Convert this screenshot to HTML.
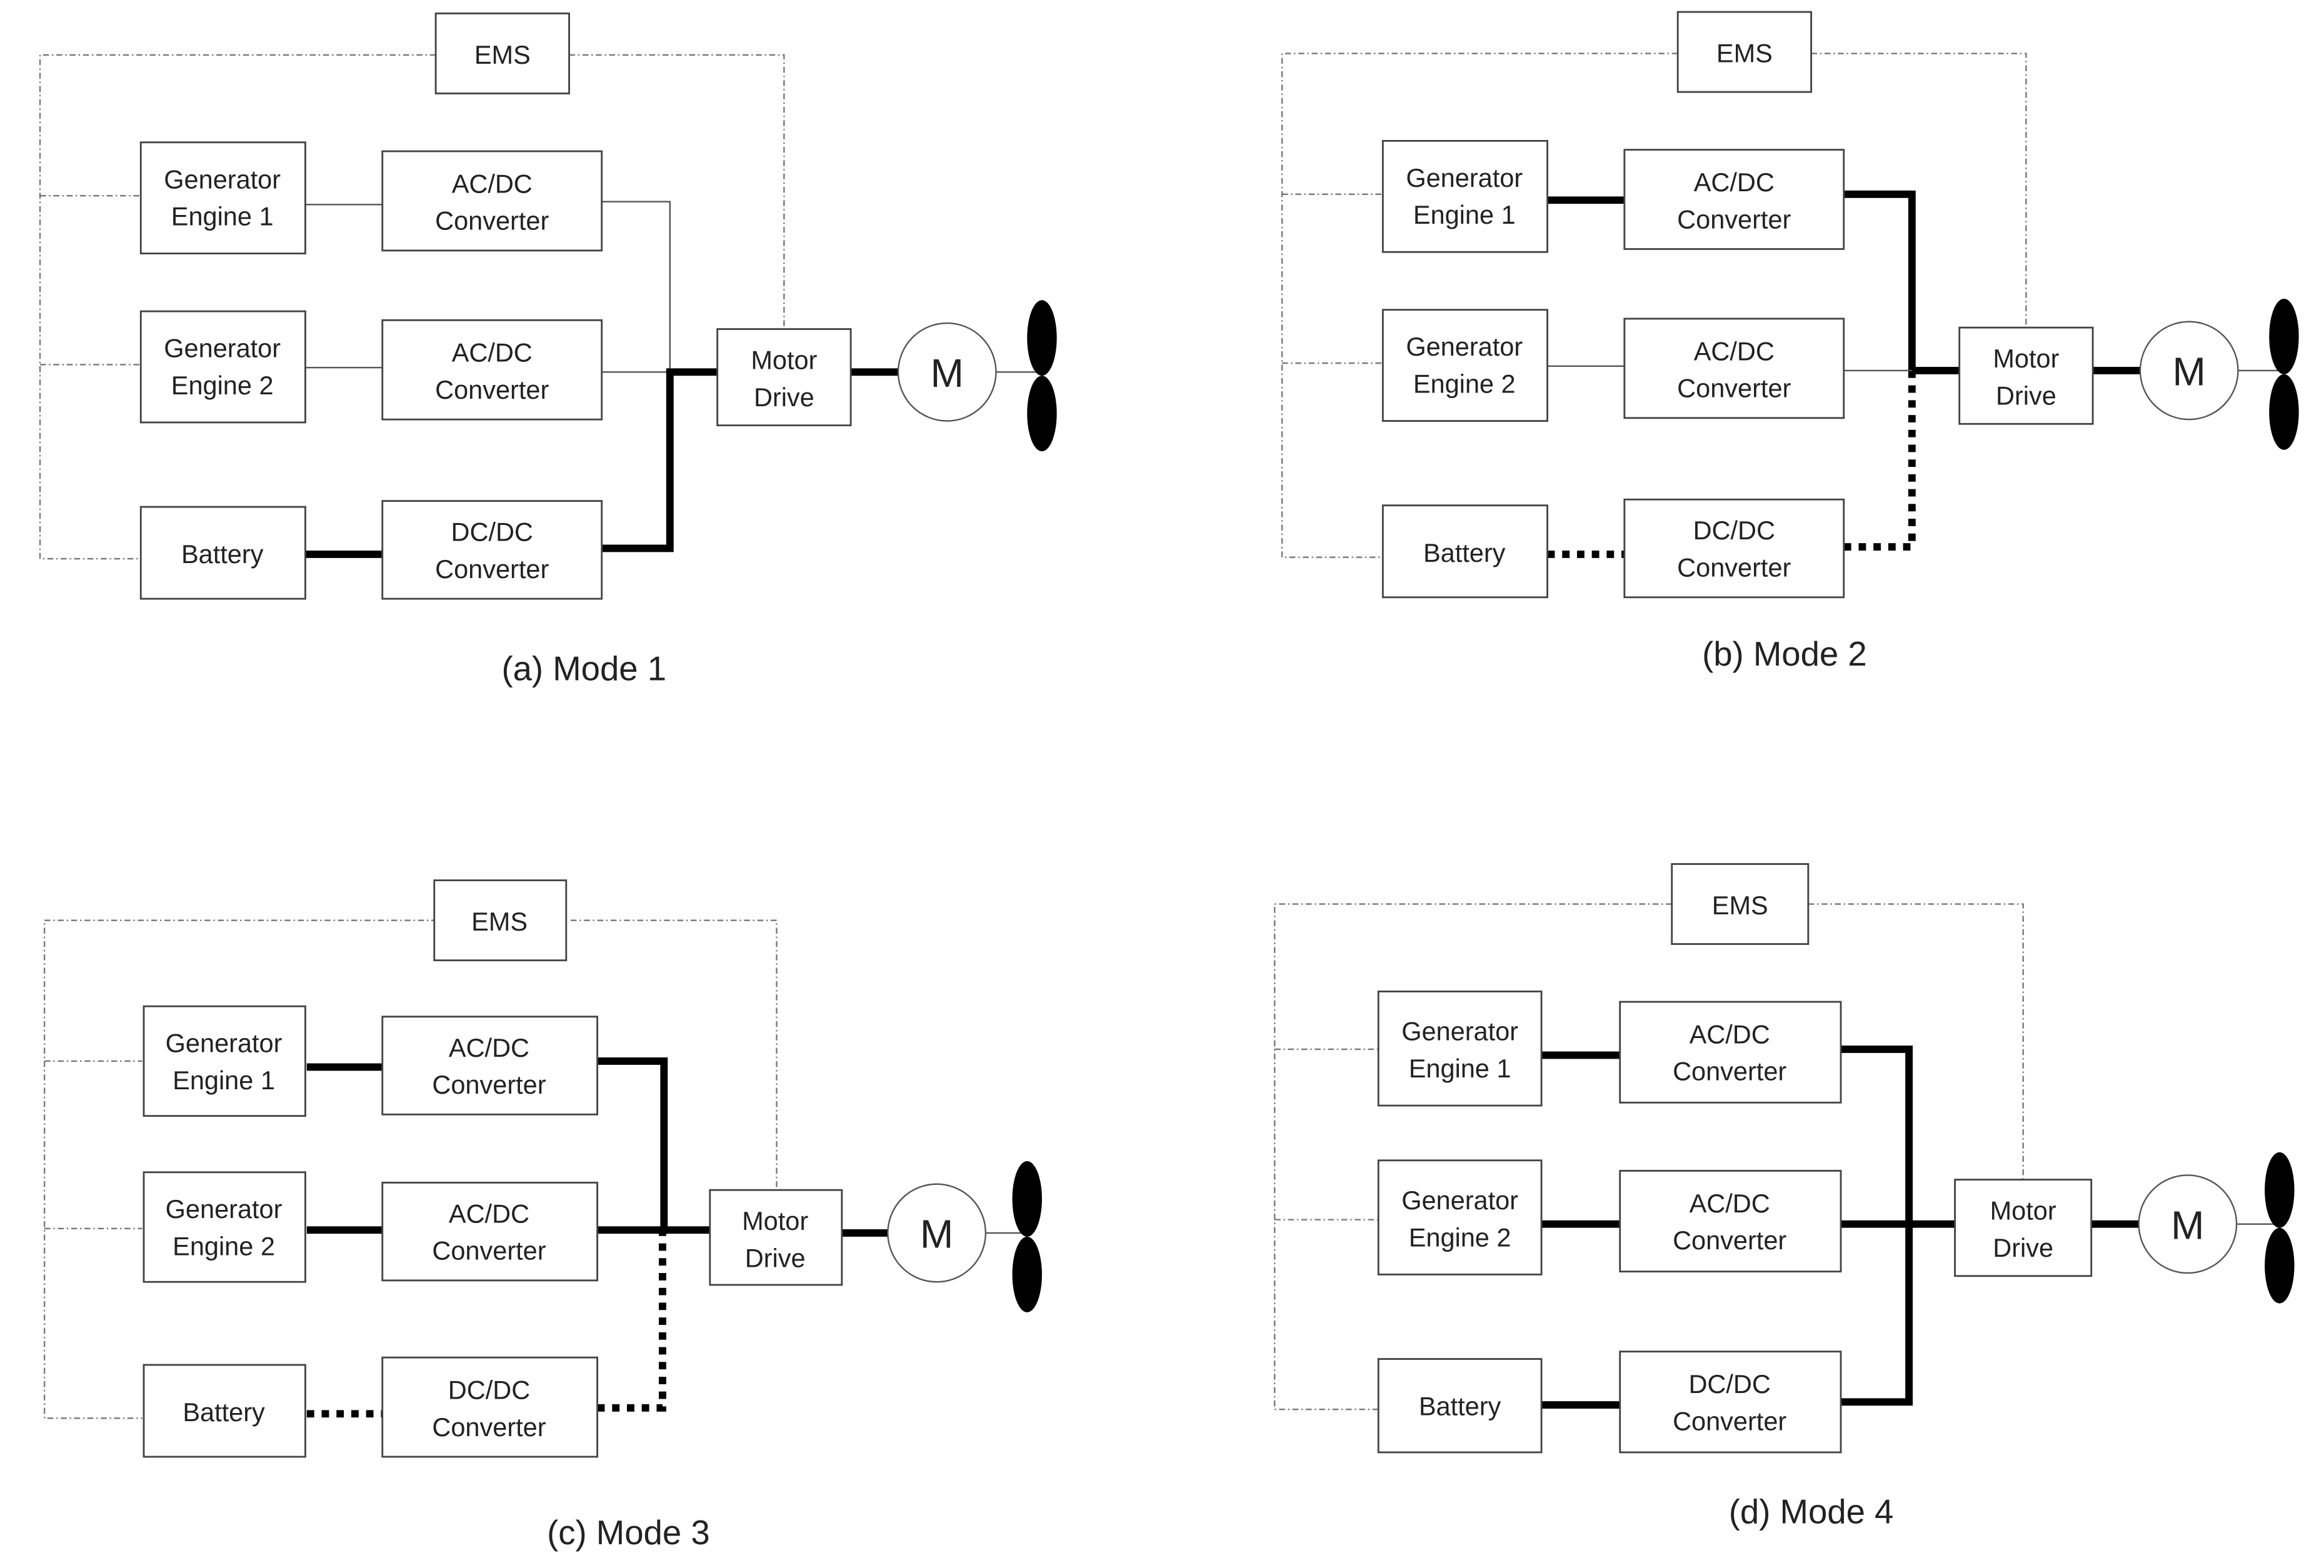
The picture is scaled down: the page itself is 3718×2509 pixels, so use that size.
<!DOCTYPE html>
<html><head><meta charset="utf-8"><style>
html,body{margin:0;padding:0;background:#fff;}
svg{display:block;}
text{font-family:"Liberation Sans","Noto Sans CJK KR",sans-serif;fill:#222;text-anchor:middle;}
.bx{fill:#fff;stroke:#444;stroke-width:1.2;}
.dd{fill:none;stroke:#777;stroke-width:1;stroke-dasharray:4,2,1,2;}
.tn{fill:none;stroke:#555;stroke-width:1;}
.tk{fill:none;stroke:#000;stroke-width:5;}
.dt{fill:none;stroke:#000;stroke-width:5;stroke-dasharray:5,5;}
.t{font-size:17.5px;}
.lb{font-size:23px;}
</style></head><body>
<svg width="3718" height="2509" viewBox="0 0 1568 1058" xmlns="http://www.w3.org/2000/svg">
<rect width="1568" height="1058" fill="#fff"/>

<!-- Panel A -->
<g>
<polyline class="dd" points="294,37 27,37 27,377 95,377"/>
<line class="dd" x1="27" y1="132" x2="95" y2="132"/>
<line class="dd" x1="27" y1="246" x2="95" y2="246"/>
<polyline class="dd" points="384,37 529,37 529,222"/>
<line class="tn" x1="206" y1="138" x2="258" y2="138"/>
<line class="tn" x1="206" y1="248" x2="258" y2="248"/>
<polyline class="tn" points="406,136 452,136 452,251"/>
<line class="tn" x1="406" y1="251" x2="452" y2="251"/>
<line class="tk" x1="206" y1="374" x2="258" y2="374"/>
<polyline class="tk" points="406,370 452,370 452,251 484,251"/>
<line class="tk" x1="574" y1="251" x2="606" y2="251"/>
<line class="tn" x1="672" y1="251" x2="703" y2="251"/>
<rect class="bx" x="294" y="9" width="90" height="54"/><text class="t" x="339" y="43">EMS</text>
<rect class="bx" x="95" y="96" width="111" height="75"/><text class="t" x="150" y="127">Generator</text><text class="t" x="150" y="152">Engine 1</text>
<rect class="bx" x="258" y="102" width="148" height="67"/><text class="t" x="332" y="130">AC/DC</text><text class="t" x="332" y="155">Converter</text>
<rect class="bx" x="95" y="210" width="111" height="75"/><text class="t" x="150" y="241">Generator</text><text class="t" x="150" y="266">Engine 2</text>
<rect class="bx" x="258" y="216" width="148" height="67"/><text class="t" x="332" y="244">AC/DC</text><text class="t" x="332" y="269">Converter</text>
<rect class="bx" x="95" y="342" width="111" height="62"/><text class="t" x="150" y="380">Battery</text>
<rect class="bx" x="258" y="338" width="148" height="66"/><text class="t" x="332" y="365">DC/DC</text><text class="t" x="332" y="390">Converter</text>
<rect class="bx" x="484" y="222" width="90" height="65"/><text class="t" x="529" y="249">Motor</text><text class="t" x="529" y="274">Drive</text>
<circle cx="639" cy="251" r="33" fill="#fff" stroke="#555" stroke-width="1"/><text x="639" y="261" style="font-size:27px">M</text>
<ellipse cx="703" cy="228" rx="10" ry="25.5" fill="#000"/><ellipse cx="703" cy="279" rx="10" ry="25.5" fill="#000"/>
<text class="lb" x="394" y="459">(a) Mode 1</text>
</g>

<!-- Panel B -->
<g transform="translate(838,-1)">
<polyline class="dd" points="294,37 27,37 27,377 95,377"/>
<line class="dd" x1="27" y1="132" x2="95" y2="132"/>
<line class="dd" x1="27" y1="246" x2="95" y2="246"/>
<polyline class="dd" points="384,37 529,37 529,222"/>
<line class="tk" x1="206" y1="136" x2="258" y2="136"/>
<line class="tn" x1="206" y1="248" x2="258" y2="248"/>
<polyline class="tk" points="406,132 452,132 452,251 484,251"/>
<line class="tn" x1="406" y1="251" x2="452" y2="251"/>
<line class="dt" x1="206" y1="375" x2="258" y2="375"/>
<polyline class="dt" points="406,370 452,370 452,253"/>
<line class="tk" x1="574" y1="251" x2="606" y2="251"/>
<line class="tn" x1="672" y1="251" x2="703" y2="251"/>
<rect class="bx" x="294" y="9" width="90" height="54"/><text class="t" x="339" y="43">EMS</text>
<rect class="bx" x="95" y="96" width="111" height="75"/><text class="t" x="150" y="127">Generator</text><text class="t" x="150" y="152">Engine 1</text>
<rect class="bx" x="258" y="102" width="148" height="67"/><text class="t" x="332" y="130">AC/DC</text><text class="t" x="332" y="155">Converter</text>
<rect class="bx" x="95" y="210" width="111" height="75"/><text class="t" x="150" y="241">Generator</text><text class="t" x="150" y="266">Engine 2</text>
<rect class="bx" x="258" y="216" width="148" height="67"/><text class="t" x="332" y="244">AC/DC</text><text class="t" x="332" y="269">Converter</text>
<rect class="bx" x="95" y="342" width="111" height="62"/><text class="t" x="150" y="380">Battery</text>
<rect class="bx" x="258" y="338" width="148" height="66"/><text class="t" x="332" y="365">DC/DC</text><text class="t" x="332" y="390">Converter</text>
<rect class="bx" x="484" y="222" width="90" height="65"/><text class="t" x="529" y="249">Motor</text><text class="t" x="529" y="274">Drive</text>
<circle cx="639" cy="251" r="33" fill="#fff" stroke="#555" stroke-width="1"/><text x="639" y="261" style="font-size:27px">M</text>
<ellipse cx="703" cy="228" rx="10" ry="25.5" fill="#000"/><ellipse cx="703" cy="279" rx="10" ry="25.5" fill="#000"/>
<text class="lb" x="366" y="450">(b) Mode 2</text>
</g>

<!-- Panel C -->
<g transform="translate(1,584)">
<polyline class="dd" points="294,37 29,37 29,373 95,373"/>
<line class="dd" x1="29" y1="132" x2="95" y2="132"/>
<line class="dd" x1="29" y1="245" x2="95" y2="245"/>
<polyline class="dd" points="384,37 523,37 523,219"/>
<line class="tk" x1="206" y1="136" x2="258" y2="136"/>
<line class="tk" x1="206" y1="246" x2="258" y2="246"/>
<polyline class="tk" points="402,132 447,132 447,246"/>
<line class="tk" x1="402" y1="246" x2="479" y2="246"/>
<line class="dt" x1="206" y1="370" x2="258" y2="370"/>
<polyline class="dt" points="402,366 446,366 446,248"/>
<line class="tk" x1="567" y1="248" x2="599" y2="248"/>
<line class="tn" x1="664" y1="248" x2="692" y2="248"/>
<rect class="bx" x="292" y="10" width="89" height="54"/><text class="t" x="336" y="44">EMS</text>
<rect class="bx" x="96" y="95" width="109" height="74"/><text class="t" x="150" y="126">Generator</text><text class="t" x="150" y="151">Engine 1</text>
<rect class="bx" x="257" y="102" width="145" height="66"/><text class="t" x="329" y="129">AC/DC</text><text class="t" x="329" y="154">Converter</text>
<rect class="bx" x="96" y="207" width="109" height="74"/><text class="t" x="150" y="238">Generator</text><text class="t" x="150" y="263">Engine 2</text>
<rect class="bx" x="257" y="214" width="145" height="66"/><text class="t" x="329" y="241">AC/DC</text><text class="t" x="329" y="266">Converter</text>
<rect class="bx" x="96" y="337" width="109" height="62"/><text class="t" x="150" y="375">Battery</text>
<rect class="bx" x="257" y="332" width="145" height="67"/><text class="t" x="329" y="360">DC/DC</text><text class="t" x="329" y="385">Converter</text>
<rect class="bx" x="478" y="219" width="89" height="64"/><text class="t" x="522" y="246">Motor</text><text class="t" x="522" y="271">Drive</text>
<circle cx="631" cy="248" r="33" fill="#fff" stroke="#555" stroke-width="1"/><text x="631" y="258" style="font-size:27px">M</text>
<ellipse cx="692" cy="225" rx="10" ry="25.5" fill="#000"/><ellipse cx="692" cy="276" rx="10" ry="25.5" fill="#000"/>
<text class="lb" x="423" y="458">(c) Mode 3</text>
</g>

<!-- Panel D -->
<g transform="translate(835,574)">
<polyline class="dd" points="293,36 25,36 25,377 95,377"/>
<line class="dd" x1="25" y1="134" x2="95" y2="134"/>
<line class="dd" x1="25" y1="249" x2="95" y2="249"/>
<polyline class="dd" points="385,36 530,36 530,222"/>
<line class="tk" x1="205" y1="138" x2="258" y2="138"/>
<line class="tk" x1="205" y1="252" x2="258" y2="252"/>
<line class="tk" x1="205" y1="374" x2="258" y2="374"/>
<polyline class="tk" points="407,134 453,134 453,372 407,372"/>
<line class="tk" x1="407" y1="252" x2="484" y2="252"/>
<line class="tk" x1="576" y1="252" x2="608" y2="252"/>
<line class="tn" x1="674" y1="252" x2="703" y2="252"/>
<rect class="bx" x="293" y="9" width="92" height="54"/><text class="t" x="339" y="43">EMS</text>
<rect class="bx" x="95" y="95" width="110" height="77"/><text class="t" x="150" y="128">Generator</text><text class="t" x="150" y="153">Engine 1</text>
<rect class="bx" x="258" y="102" width="149" height="68"/><text class="t" x="332" y="130">AC/DC</text><text class="t" x="332" y="155">Converter</text>
<rect class="bx" x="95" y="209" width="110" height="77"/><text class="t" x="150" y="242">Generator</text><text class="t" x="150" y="267">Engine 2</text>
<rect class="bx" x="258" y="216" width="149" height="68"/><text class="t" x="332" y="244">AC/DC</text><text class="t" x="332" y="269">Converter</text>
<rect class="bx" x="95" y="343" width="110" height="63"/><text class="t" x="150" y="381">Battery</text>
<rect class="bx" x="258" y="338" width="149" height="68"/><text class="t" x="332" y="366">DC/DC</text><text class="t" x="332" y="391">Converter</text>
<rect class="bx" x="484" y="222" width="92" height="65"/><text class="t" x="530" y="249">Motor</text><text class="t" x="530" y="274">Drive</text>
<circle cx="641" cy="252" r="33" fill="#fff" stroke="#555" stroke-width="1"/><text x="641" y="262" style="font-size:27px">M</text>
<ellipse cx="703" cy="229" rx="10" ry="25.5" fill="#000"/><ellipse cx="703" cy="280" rx="10" ry="25.5" fill="#000"/>
<text class="lb" x="387" y="454">(d) Mode 4</text>
</g>
</svg>
</body></html>
